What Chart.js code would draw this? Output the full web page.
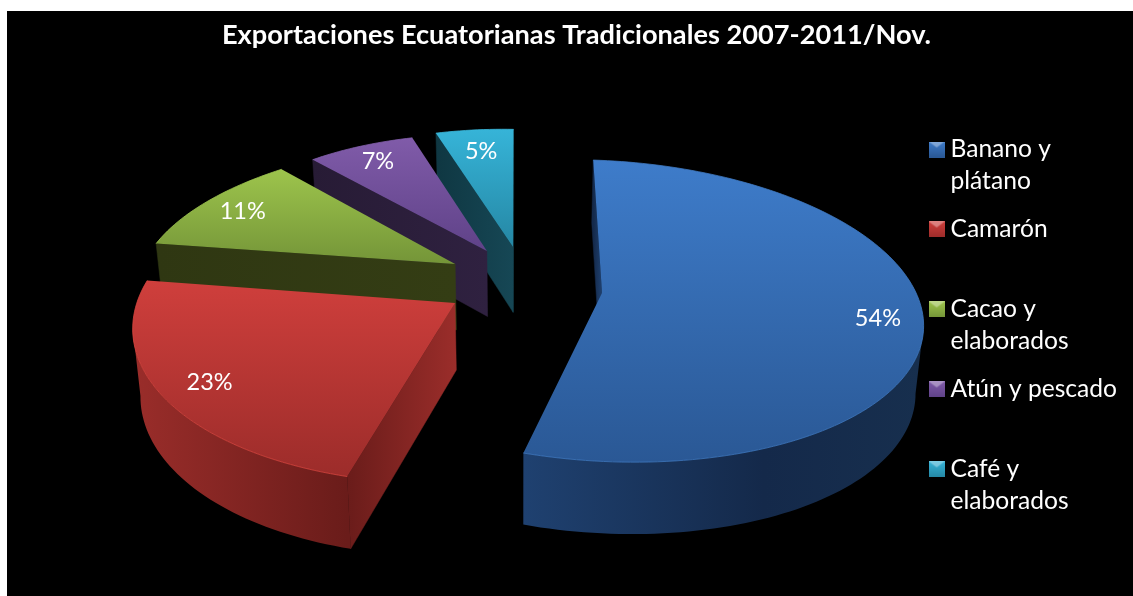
<!DOCTYPE html>
<html>
<head>
<meta charset="utf-8">
<title>Exportaciones Ecuatorianas Tradicionales</title>
<script src="https://cdn.jsdelivr.net/npm/chart.js@4"></script>
<style>
	html, body { margin: 0; background: #fff; }
	canvas { display: block; }
</style>
</head>
<body>
<canvas id="pie" width="1133" height="596"></canvas>
<script>
// ============= Data =============

const chartTitle = "Exportaciones Ecuatorianas Tradicionales 2007-2011/Nov.";
const categories = [ "Banano y plátano", "Camarón", "Cacao y elaborados", "Atún y pescado", "Café y elaborados" ];
const legendLines = [ [ "Banano y", "plátano" ], [ "Camarón", "" ], [ "Cacao y", "elaborados" ], [ "Atún y pescado", "" ], [ "Café y", "elaborados" ] ];
const shares = [ 54, 23, 11, 7, 5 ];

// ============= Style =============

const faceTop = [ "#3e7cca", "#cf3f3c", "#9dc44c", "#805ba9", "#36b4d8" ];
const faceBottom = [ "#2a5895", "#9c2c2a", "#749538", "#5f4288", "#2587a4" ];
const rimColors = [ "#3f78c0", "#d8453f", "#a0c650", "#8460ad", "#3ab8da" ];
const wallLeft = [ "#1f4170", "#9a2d2a", "#343d14", "#2f2140", "#164755" ];
const wallRight = [ "#14294a", "#6a1c1a", "#2f3712", "#271b35", "#0f3742" ];
const explodeU = [ 0, -0.461, -0.464, -0.362, -0.277 ];
const explodeV = [ 0, 0.097, -0.168, -0.267, -0.302 ];
// Each slice of the original is slightly warped by its perspective: [ uu, uv, vu, vv ]
const sliceShape = [ [ 1, -0.012, 0, 1 ], [ 0.98, -0.039, -0.046, 1.043 ], [ 0.988, -0.093, -0.044, 0.966 ], [ 0.903, -0.013, -0.019, 0.926 ], [ 0.902, -0.011, -0.029, 0.942 ] ];
const labelRadius = [ 0.86, 0.85, 0.85, 0.85, 0.81 ];

// Plane -> screen homography of the tilted pie
function project(u, v)
{
	const w = 1 - 0.119 * v;
	return { x: (602 + 318 * u - 58 * v) / w, y: (293 + 10 * u + 114 * v) / w };
}

// The same point on the bottom side of the pie
function drop(point)
{
	return { x: point.x + (520 - point.x) * 0.02, y: point.y + 58 + 0.03 * point.y };
}

function slicePoint(i, angle, r)
{
	const [ uu, uv, vu, vv ] = sliceShape[i];
	const u = Math.sin(angle) * r;
	const v = -Math.cos(angle) * r;
	return project(explodeU[i] + uu * u + uv * v, explodeV[i] + vu * u + vv * v);
}

function polygon(ctx, points)
{
	ctx.beginPath();
	points.forEach((p, i) => i ? ctx.lineTo(p.x, p.y) : ctx.moveTo(p.x, p.y));
	ctx.closePath();
}

// A wall only shows when the slice lies on the other side of its edge than "down"
function wallVisible(a, b, inner)
{
	const dx = b.x - a.x, dy = b.y - a.y;
	return dx * (inner.y - a.y) - dy * (inner.x - a.x) > 0 ? dx < 0 : dx > 0;
}

function drawWall(ctx, a, b, i)
{
	const left = a.x < b.x ? a : b;
	const right = a.x < b.x ? b : a;
	const gradient = ctx.createLinearGradient(left.x, 0, Math.max(right.x, left.x + 1), 0);
	gradient.addColorStop(0, wallRight[i]);
	gradient.addColorStop(1, wallLeft[i]);
	ctx.fillStyle = gradient;
	ctx.strokeStyle = gradient;
	ctx.lineWidth = 0.5;
	polygon(ctx, [ a, b, drop(b), drop(a) ]);
	ctx.fill();
	ctx.stroke();
}

function drawSlice(ctx, arc, i)
{
	const start = arc.startAngle + Math.PI / 2;
	const end = arc.endAngle + Math.PI / 2;
	const mid = (start + end) / 2;

	const apex = slicePoint(i, 0, 0);
	const inner = slicePoint(i, mid, 0.5);
	const rim = [];
	const steps = Math.ceil((end - start) * 40);
	for (let s = 0; s <= steps; s++) rim.push(slicePoint(i, start + (end - start) * s / steps, 1));

	const first = rim[0];
	const last = rim[rim.length - 1];

	if (wallVisible(apex, last, inner)) drawWall(ctx, last, apex, i);
	if (wallVisible(apex, first, inner)) drawWall(ctx, first, apex, i);

	const strip = [];
	for (let s = 0; s < steps; s++)
	{
		if (wallVisible(rim[s], rim[s + 1], apex)) strip.push(s);
	}
	if (strip.length)
	{
		const top = rim.slice(strip[0], strip[strip.length - 1] + 2);
		const xs = top.map(p => p.x);
		const gradient = ctx.createLinearGradient(Math.min(...xs), 0, Math.max(...xs), 0);
		gradient.addColorStop(0, wallLeft[i]);
		gradient.addColorStop(i === 0 ? 0.6 : 1, wallRight[i]);
		gradient.addColorStop(1, i === 0 ? "#172f4e" : wallRight[i]);
		ctx.fillStyle = gradient;
		polygon(ctx, [ ...top, ...top.map(drop).reverse() ]);
		ctx.fill();
	}

	const ys = [ apex, ...rim ].map(p => p.y);
	const face = ctx.createLinearGradient(0, Math.min(...ys), 0, Math.max(...ys));
	face.addColorStop(0, faceTop[i]);
	face.addColorStop(1, faceBottom[i]);
	ctx.fillStyle = face;
	polygon(ctx, [ apex, ...rim ]);
	ctx.fill();

	ctx.strokeStyle = rimColors[i];
	ctx.lineWidth = 0.8;
	ctx.beginPath();
	rim.forEach((p, s) => s ? ctx.lineTo(p.x, p.y) : ctx.moveTo(p.x, p.y));
	ctx.stroke();
}

const pie3dPlugin =
{
	id: "pie3d",

	beforeDraw(chart)
	{
		chart.ctx.fillStyle = "#000";
		chart.ctx.fillRect(7, 11, chart.width - 7, chart.height - 11);
	},

	// The arcs keep their angles from the library, only the drawing is replaced
	beforeDatasetsDraw(chart)
	{
		const ctx = chart.ctx;
		const arcs = chart.getDatasetMeta(0).data;
		const total = shares.reduce((a, b) => a + b, 0);

		ctx.save();
		[ 4, 3, 2, 1, 0 ].forEach(i => drawSlice(ctx, arcs[i], i));

		ctx.fillStyle = "#fff";
		ctx.font = "23.5px Lato";
		ctx.textAlign = "center";
		ctx.textBaseline = "middle";
		arcs.forEach((arc, i) =>
		{
			const mid = (arc.startAngle + arc.endAngle) / 2 + Math.PI / 2;
			const p = slicePoint(i, mid, labelRadius[i]);
			ctx.fillText(Math.round(shares[i] / total * 100) + "%", p.x, p.y + 1);
		});
		ctx.restore();

		return false;
	}
};

// Small bevelled legend box, drawn once per category
function legendIcon(i)
{
	const icon = document.createElement("canvas");
	icon.width = 16;
	icon.height = 16;
	const ctx = icon.getContext("2d");
	const gradient = ctx.createLinearGradient(0, 0, 0, 16);
	gradient.addColorStop(0, faceTop[i]);
	gradient.addColorStop(1, faceBottom[i]);
	ctx.fillStyle = gradient;
	ctx.fillRect(0, 0, 16, 16);
	ctx.fillStyle = "rgba(255, 255, 255, 0.35)";
	ctx.beginPath();
	ctx.moveTo(0, 0);
	ctx.lineTo(16, 0);
	ctx.lineTo(8, 6);
	ctx.closePath();
	ctx.fill();
	return icon;
}

new Chart(document.getElementById("pie"),
{
	type: "pie",
	plugins: [ pie3dPlugin ],
	data:
	{
		labels: categories,
		datasets: [ { data: shares, backgroundColor: faceTop, borderWidth: 0 } ]
	},
	options:
	{
		responsive: false,
		animation: false,
		layout: { padding: { left: 26, right: 6, bottom: 59 } },
		plugins:
		{
			tooltip: { enabled: false },
			title:
			{
				display: true,
				text: chartTitle,
				color: "#fff",
				font: { family: "Lato", size: 27.2, weight: "bold", lineHeight: 1.2 },
				padding: { top: 19, bottom: 2 }
			},
			legend:
			{
				position: "right",
				align: "end",
				labels:
				{
					color: "#fff",
					font: { family: "Lato", size: 24.6, lineHeight: 1.3 },
					padding: 16,
					usePointStyle: true,
					pointStyleWidth: 3,
					generateLabels: () => legendLines.map((text, i) => ({ text, pointStyle: legendIcon(i), fontColor: "#fff", index: i, hidden: false, lineWidth: 0 }))
				}
			}
		}
	}
});
</script>
</body>
</html>
